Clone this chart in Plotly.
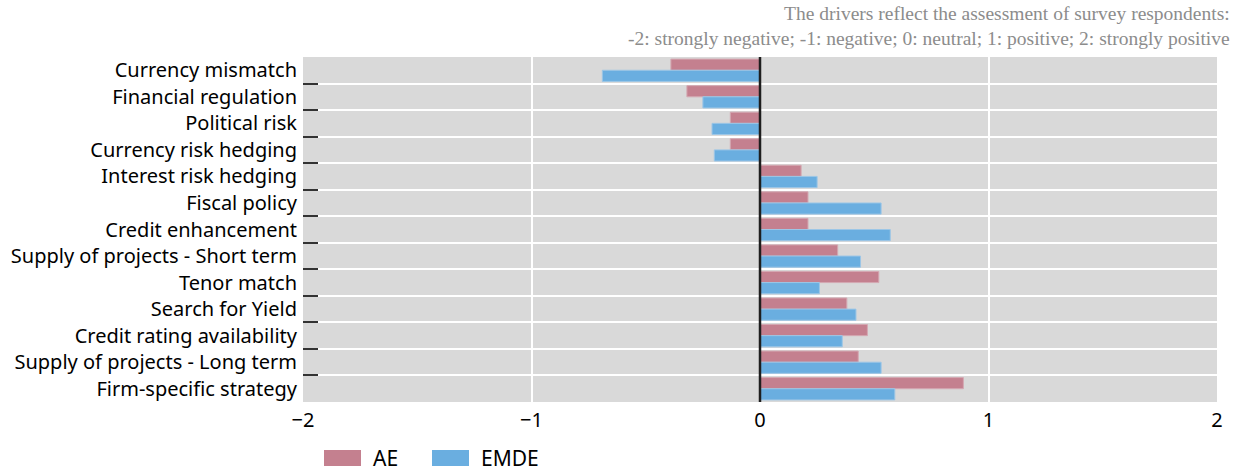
import plotly.graph_objects as go

categories = [
    "Currency mismatch", "Financial regulation", "Political risk",
    "Currency risk hedging", "Interest risk hedging", "Fiscal policy",
    "Credit enhancement", "Supply of projects - Short term", "Tenor match",
    "Search for Yield", "Credit rating availability",
    "Supply of projects - Long term", "Firm-specific strategy",
]
ae = [-0.39, -0.32, -0.13, -0.13, 0.18, 0.21, 0.21, 0.34, 0.52, 0.38, 0.47, 0.43, 0.89]
emde = [-0.69, -0.25, -0.21, -0.20, 0.25, 0.53, 0.57, 0.44, 0.26, 0.42, 0.36, 0.53, 0.59]
x_ticks = [-2, -1, 0, 1, 2]
series_names = ["AE", "EMDE"]
colors = ["#C4808F", "#6AAEE0"]
edge_colors = ["#D4A8B2", "#9CC6E6"]

FONT = "Noto Sans"

fig = go.Figure()
for name, vals, c, ec in zip(series_names, [ae, emde], colors, edge_colors):
    fig.add_trace(go.Bar(
        y=categories, x=vals, name=name, orientation="h",
        marker=dict(color=c, line=dict(color=ec, width=1)),
        showlegend=False, hoverinfo="skip",
    ))

# zero line drawn above the bars
fig.add_shape(type="line", xref="x", yref="paper", x0=0, x1=0, y0=0, y1=1,
              line=dict(color="#1E1E1E", width=2.5), layer="above")

# custom legend (wide swatches)
sw_left = [324, 432]
for i, (name, c) in enumerate(zip(series_names, colors)):
    fig.add_shape(type="rect", xref="paper", yref="paper",
                  x0=(sw_left[i] - 303) / 914, x1=(sw_left[i] + 37 - 303) / 914,
                  y0=-(450 - 402) / 345, y1=-(466 - 402) / 345,
                  fillcolor=c, line=dict(width=0))
    fig.add_annotation(xref="paper", yref="paper",
                       x=(sw_left[i] + 47 - 303) / 914, y=-(458 - 402) / 345,
                       text=name, showarrow=False, xanchor="left", yanchor="middle",
                       font=dict(family=FONT, size=21, color="#000"))

fig.add_annotation(
    xref="paper", yref="paper", x=(1232 - 303) / 914, y=1 + (57 - 1) / 345,
    xanchor="right", yanchor="top", align="right", showarrow=False,
    text="The drivers reflect the assessment of survey respondents:<br>"
         "-2: strongly negative; -1: negative; 0: neutral; 1: positive; 2: strongly positive",
    font=dict(family="Liberation Serif", size=19.5, color="#8C8C8C"),
)

fig.update_layout(
    width=1236, height=472,
    margin=dict(l=303, r=19, t=57, b=70, autoexpand=False),
    paper_bgcolor="white", plot_bgcolor="#D9D9D9",
    barmode="group", bargap=0.16, bargroupgap=0.0,
    font=dict(family=FONT, size=20, color="#000"),
    xaxis=dict(
        range=[-2, 2], tickvals=x_ticks, showgrid=True, gridcolor="white", gridwidth=2,
        zeroline=False,
        tickfont=dict(family=FONT, size=20, color="#000"), ticks="",
        ticklabelstandoff=4, showline=False,
    ),
    yaxis=dict(
        type="category", autorange="reversed", tickson="boundaries",
        showgrid=True, gridcolor="white", gridwidth=2,
        ticks="inside", ticklen=15, tickcolor="#333333", tickwidth=1.5,
        tickfont=dict(family=FONT, size=20, color="#000"),
        ticklabelstandoff=5, showline=False,
    ),
)

fig.write_html("out.html", config={"displayModeBar": False},
               post_script="document.body.style.margin='0';document.body.style.padding='0';")
